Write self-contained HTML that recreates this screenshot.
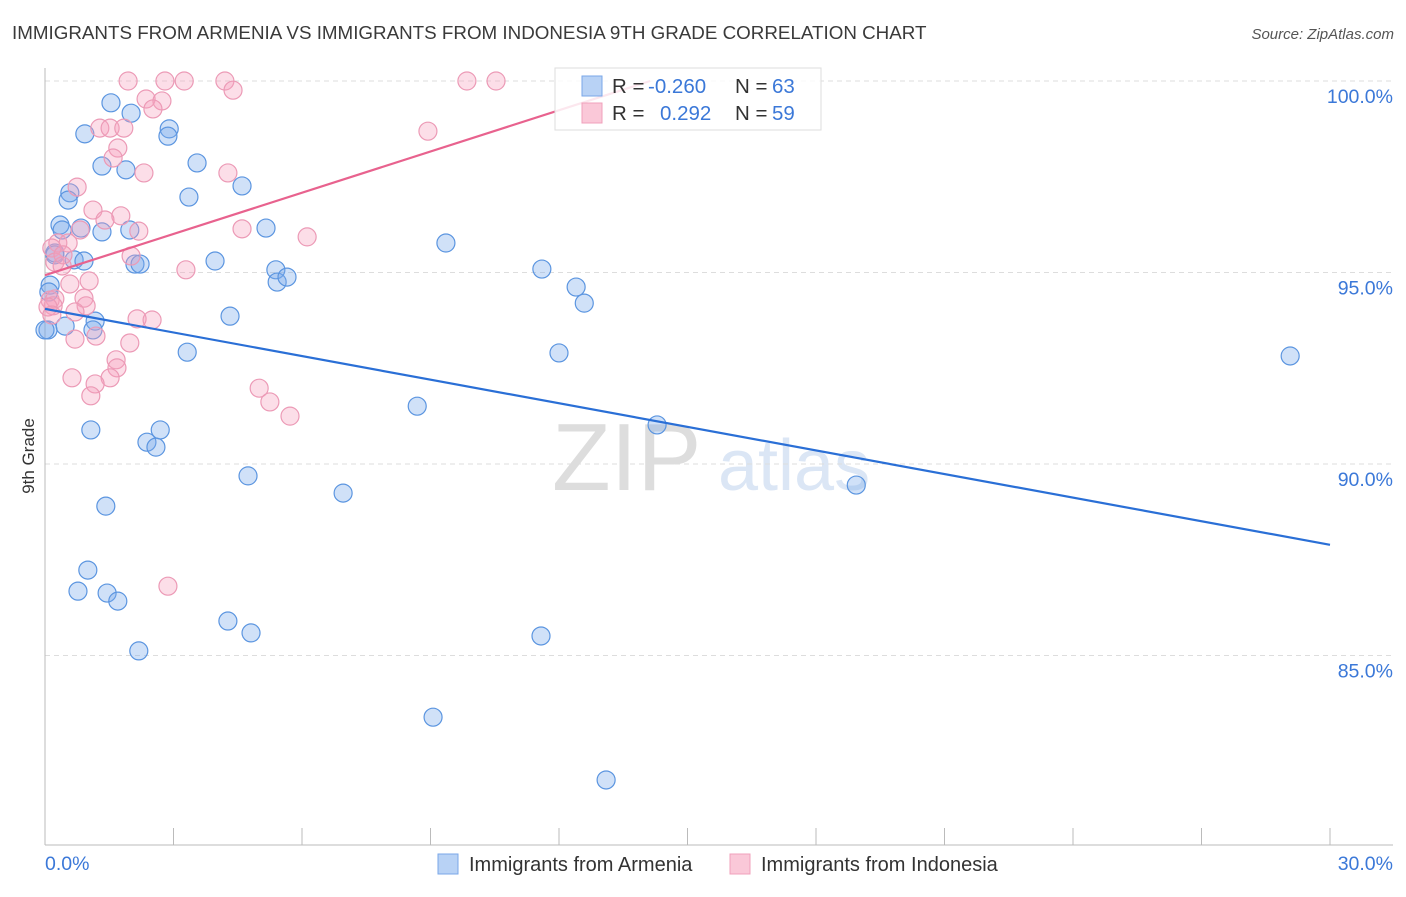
<!DOCTYPE html>
<html><head><meta charset="utf-8"><style>
body{margin:0;background:#fff;font-family:"Liberation Sans",sans-serif;}
svg text{font-family:"Liberation Sans",sans-serif;}
</style></head><body>
<svg id="chart" width="1406" height="892" viewBox="0 0 1406 892" xmlns="http://www.w3.org/2000/svg">
<text x="12" y="39" font-size="18.8" fill="#3a3a3a">IMMIGRANTS FROM ARMENIA VS IMMIGRANTS FROM INDONESIA 9TH GRADE CORRELATION CHART</text>
<text x="1394" y="39" font-size="15" fill="#555" text-anchor="end" font-style="italic">Source: ZipAtlas.com</text>
<g>
<text x="552" y="490" font-size="96" fill="#ddd" font-family="Liberation Serif">ZIP</text>
<text x="718" y="490" font-size="72" fill="#dbe6f5">atlas</text>
</g>
<g id="grid"></g>
<line x1="45" y1="68" x2="45" y2="845" stroke="#bbb"/>
<line x1="45" y1="845" x2="1393" y2="845" stroke="#bbb"/>
<g id="xticks"></g>
<text transform="translate(34,456) rotate(-90)" font-size="17" fill="#333" text-anchor="middle">9th Grade</text>
<text x="45" y="870" font-size="19.5" fill="#3b78d8">0.0%</text>
<text x="1393" y="870" font-size="19.5" fill="#3b78d8" text-anchor="end">30.0%</text>
<g id="points"></g>
<g id="lines"></g>
<g>
<rect x="555" y="68" width="266" height="62" fill="#fff" fill-opacity="0.85" stroke="#ddd"/>
<rect x="582" y="76" width="20" height="20" fill="#b8d2f5" stroke="#7aa7e8"/>
<rect x="582" y="103" width="20" height="20" fill="#fac8d8" stroke="#f0a0bb"/>
<text x="612" y="93" font-size="20.5" fill="#333">R = </text><text x="648" y="93" font-size="20.5" fill="#3b78d8">-0.260</text>
<text x="735" y="93" font-size="20.5" fill="#333">N = </text><text x="772" y="93" font-size="20.5" fill="#3b78d8">63</text>
<text x="612" y="120" font-size="20.5" fill="#333">R = </text><text x="660" y="120" font-size="20.5" fill="#3b78d8">0.292</text>
<text x="735" y="120" font-size="20.5" fill="#333">N = </text><text x="772" y="120" font-size="20.5" fill="#3b78d8">59</text>
</g>
<g>
<rect x="438" y="854" width="20" height="20" fill="#b8d2f5" stroke="#7aa7e8"/>
<text x="469" y="871" font-size="20" fill="#333">Immigrants from Armenia</text>
</g>
<g>
<rect x="730" y="854" width="20" height="20" fill="#fac8d8" stroke="#f0a0bb"/>
<text x="761" y="871" font-size="20" fill="#333">Immigrants from Indonesia</text>
</g>
</svg>
<script>
const yTicks=[100,95,90,85];
const yTickLabels=["100.0%","95.0%","90.0%","85.0%"];
const xTickVals=[0,3,6,9,12,15,18,21,24,27,30];
const blueX=[1.54,2.01,0.93,2.90,2.87,1.33,1.89,3.55,4.60,0.58,0.54,3.36,0.35,0.40,0.84,1.33,1.98,5.16,9.36,0.23,0.68,0.91,2.10,2.22,3.97,5.39,5.42,5.65,11.60,12.40,12.59,0.12,0.07,0.47,1.17,1.12,4.32,3.32,12.00,29.07,8.69,14.29,1.07,2.69,2.38,2.59,4.74,6.96,18.94,1.42,1.00,0.77,1.45,1.70,4.27,4.81,11.58,2.19,9.06,13.10,0.09,0.23,0.0];
const blueY=[99.43,99.16,98.62,98.75,98.56,97.78,97.68,97.86,97.26,97.08,96.89,96.97,96.24,96.11,96.16,96.06,96.11,96.16,95.77,95.51,95.33,95.30,95.22,95.22,95.30,95.07,94.75,94.88,95.09,94.62,94.20,94.67,93.50,93.60,93.73,93.50,93.86,92.92,92.90,92.82,91.51,91.02,90.89,90.89,90.57,90.44,89.69,89.24,89.45,88.90,87.23,86.68,86.63,86.42,85.90,85.59,85.51,85.12,83.39,81.75,94.49,95.46,93.50];
const pinkX=[1.94,2.80,3.25,4.20,4.39,9.85,10.53,2.36,2.73,2.52,1.28,1.52,1.84,1.70,1.59,2.31,4.27,0.75,1.12,1.77,1.40,0.82,2.19,4.60,6.12,0.30,0.54,0.16,0.23,2.01,3.29,0.40,1.03,0.58,0.12,0.23,0.91,0.19,0.96,0.70,2.15,2.50,1.19,0.70,1.98,1.66,1.68,1.52,0.63,1.17,1.07,5.00,5.25,5.72,2.87,8.94,0.07,0.42,0.16];
const pinkY=[100.0,100.0,100.0,100.0,99.76,100.0,100.0,99.53,99.48,99.27,98.77,98.77,98.77,98.25,97.99,97.60,97.60,97.23,96.63,96.48,96.37,96.11,96.08,96.14,95.93,95.77,95.77,95.64,95.27,95.43,95.07,95.17,94.78,94.70,94.28,94.31,94.33,94.13,94.13,93.97,93.79,93.76,93.34,93.26,93.16,92.72,92.51,92.25,92.25,92.09,91.78,91.98,91.62,91.25,86.81,98.69,94.10,95.46,93.89];
const blueTrend=[0,94.05,30,87.89];
const pinkTrend=[0,94.93,14.13,100.0];
const X=v=>45+v*(1285/30);
const Y=v=>81+(100-v)*38.3;
const NS="http://www.w3.org/2000/svg";
function mk(tag,attrs,parent){const e=document.createElementNS(NS,tag);for(const k in attrs)e.setAttribute(k,attrs[k]);parent.appendChild(e);return e;}
const grid=document.getElementById('grid');
yTicks.forEach((t,i)=>{
 const l=mk('line',{x1:45,x2:1393,y1:Y(t),y2:Y(t),stroke:'#ddd','stroke-dasharray':'5,4'},grid);
 
 
 const tx=mk('text',{x:1393,y:Y(t)+22,'font-size':19.5,fill:'#3b78d8','text-anchor':'end'},grid);
 tx.textContent=yTickLabels[i];
 
 
});
const xt=document.getElementById('xticks');
xTickVals.forEach(v=>{
 const l=mk('line',{x1:X(v),x2:X(v),y1:828,y2:845,stroke:'#bbb'},xt);
 
 
});
const pts=document.getElementById('points');
blueX.forEach((v,i)=>{
 const c=mk('circle',{cx:X(v),cy:Y(blueY[i]),r:9,fill:'rgba(120,170,235,0.35)',stroke:'#5b95e0','stroke-width':1.2},pts);
 
 
});
pinkX.forEach((v,i)=>{
 const c=mk('circle',{cx:X(v),cy:Y(pinkY[i]),r:9,fill:'rgba(245,160,190,0.35)',stroke:'#ec9ab6','stroke-width':1.2},pts);
 
 
});
const ln=document.getElementById('lines');
const bl=mk('line',{x1:X(blueTrend[0]),y1:Y(blueTrend[1]),x2:X(blueTrend[2]),y2:Y(blueTrend[3]),stroke:'#2a6fd6','stroke-width':2.2},ln);


const pl=mk('line',{x1:X(pinkTrend[0]),y1:Y(pinkTrend[1]),x2:X(pinkTrend[2]),y2:Y(pinkTrend[3]),stroke:'#e8628e','stroke-width':2.2},ln);


</script>
</body></html>
